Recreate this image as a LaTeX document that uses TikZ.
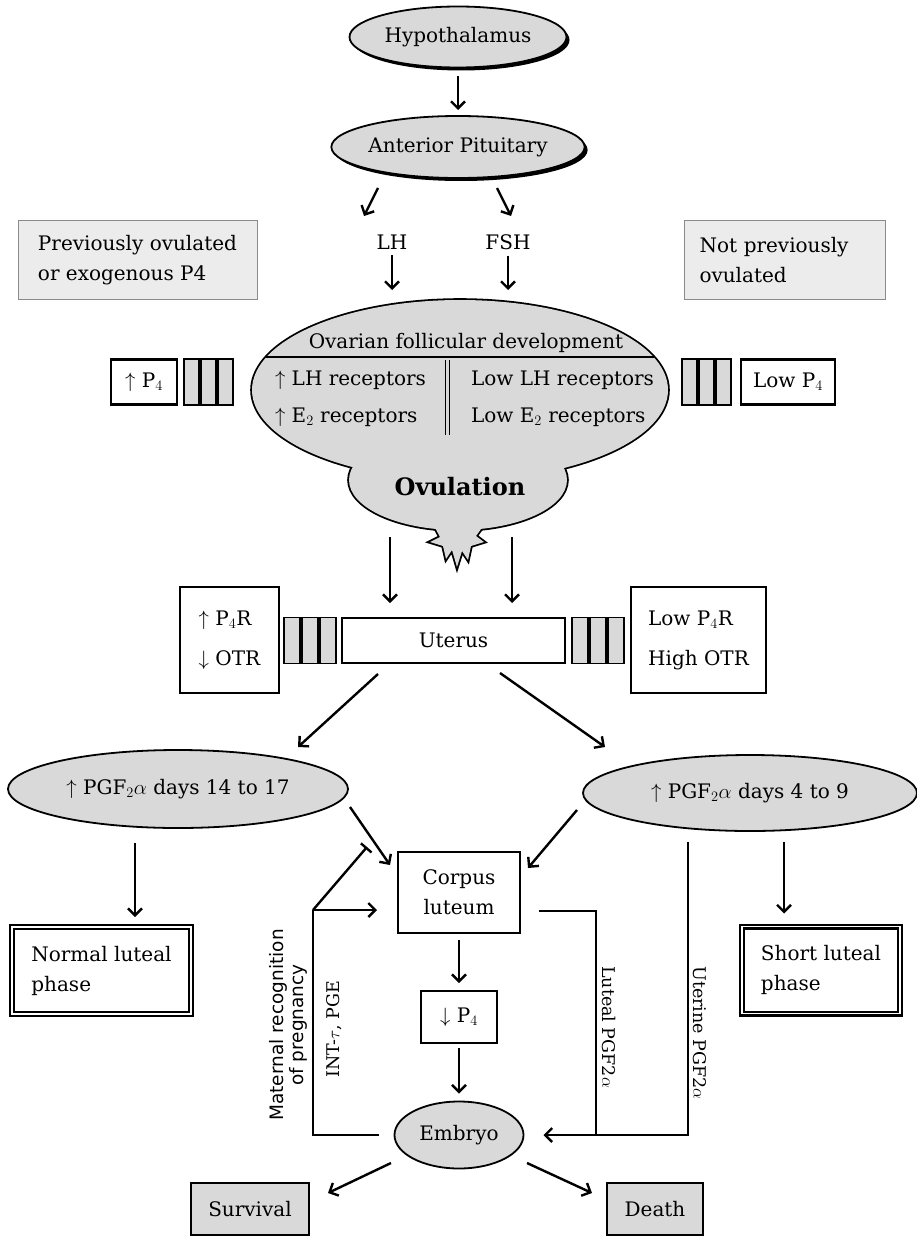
\documentclass[tikz,border=0pt]{standalone}
\usepackage{fontspec}
\setmainfont{DejaVu Serif}
\setsansfont{DejaVu Sans}
\usetikzlibrary{arrows.meta}
\usetikzlibrary{shapes.geometric}
\usetikzlibrary{shadows}
\usetikzlibrary{calc}
\definecolor{ov-fill}{HTML}{D9D9D9}
\definecolor{ov-note}{HTML}{ECECEC}
\definecolor{ov-edge}{HTML}{8A8A8A}
\def\ovrupture{(432,522) -- (440,537) -- (430,542) -- (443,546) -- (446,559) -- (452,550) -- (457,567) -- (462,551) -- (468,560) -- (471,546) -- (484,542) -- (476,536) -- (486,522) -- cycle}

\begin{document}
\begin{tikzpicture}[x=1pt, y=-1pt, >={Straight Barb[length=7pt,width=14pt]}, line width=2.4pt,
    every node/.style={font=\fontsize{20}{30}\selectfont, inner sep=0pt, outer sep=0pt},
    gland/.style={ellipse, draw, fill=ov-fill, line width=1.8pt, minimum width=217pt, minimum height=61pt,
        drop shadow={shadow xshift=3pt, shadow yshift=-3pt, fill=black, opacity=1}},
    oval/.style={ellipse, draw, fill=ov-fill, line width=1.8pt},
    note/.style={draw=ov-edge, fill=ov-note, line width=1pt, align=left, minimum height=79pt},
    plain/.style={draw, fill=white, line width=2.2pt},
    cell/.style={draw, fill=ov-fill, line width=1.8pt, minimum width=15pt, minimum height=46pt},
    luteal/.style={draw, double=white, double distance=1.2pt, line width=2.4pt, align=left, minimum width=179pt, minimum height=87pt},
    outcome/.style={draw, fill=ov-fill, line width=2.2pt, minimum height=52pt},
    side/.style={font=\fontsize{17.5}{20}\selectfont}]
    \useasboundingbox (0,0) rectangle (917,1236);
    \node[gland] (hyp) at (458,37) {Hypothalamus};
    \node[gland, minimum width=219pt, minimum height=62pt] (ant) at (458,147) {Anterior Pituitary};
    \draw[->, shorten <=9pt, shorten >=6pt] (hyp) -- (ant);
    \coordinate (lhfrom) at (378,188);
    \coordinate (lhto) at (364,216);
    \coordinate (fshfrom) at (497,188);
    \coordinate (fshto) at (511,216);
    \draw[->] (lhfrom) -- (lhto);
    \draw[->] (fshfrom) -- (fshto);
    \node (lh) at (392,242) {LH};
    \node (fsh) at (508,242) {FSH};
    \node[note, minimum width=239pt] (prev) at (137.5,260) {Previously ovulated\\or exogenous P4};
    \node[note, minimum width=201pt, text width=170pt] (notprev) at (784.5,260) {Not previously\\ovulated};

    \node[oval, line width=3.6pt, minimum width=416pt, minimum height=180pt] (ova) at (460,390) {};
    \node[oval, line width=3.6pt, minimum width=218pt, minimum height=100pt] (ovul) at (458,480) {};
    \filldraw[fill=ov-fill, line width=3.6pt] \ovrupture;
    \fill[ov-fill] (ova.center) ellipse [x radius=208, y radius=90];
    \fill[ov-fill] (ovul.center) ellipse [x radius=109, y radius=50];
    \fill[ov-fill] \ovrupture;
    \draw[->, shorten <=6pt, shorten >=10pt] (lh) -- (lh |- ova.north);
    \draw[->, shorten <=6pt, shorten >=10pt] (fsh) -- (fsh |- ova.north);
    \node (ovtitle) at (466,343) {Ovarian follicular development};
    \draw[line width=1.8pt] (266,357) -- (654,357);
    \draw[line width=1.4pt, double=ov-fill, double distance=2.4pt] (447.5,360) -- (447.5,435);
    \node[anchor=west] (lhup) at (275,380) {$\uparrow$ LH receptors};
    \node[anchor=west] (e2up) at (275,417) {$\uparrow$ E$_2$ receptors};
    \node[anchor=west] (lhlow) at (471,380) {Low LH receptors};
    \node[anchor=west] (e2low) at (471,417) {Low E$_2$ receptors};
    \node[font=\bfseries\fontsize{24}{28}\selectfont] (ovtext) at (460,487) {Ovulation};

    \node[plain, minimum width=66pt, minimum height=45pt] (p4up) at (144,382) {$\uparrow$ P$_4$};
    \foreach \i/\x in {1/191.5, 2/208.5, 3/225.5}
        \node[cell] (pl\i) at (\x,382) {};
    \foreach \i/\x in {1/689.5, 2/706.5, 3/723.5}
        \node[cell] (pr\i) at (\x,382) {};
    \node[plain, minimum width=94pt, minimum height=45pt] (p4low) at (788,382) {Low P$_4$};

    \coordinate (ovleft) at (390,537);
    \coordinate (ovright) at (512,537);
    \coordinate (utleft) at (390,603);
    \coordinate (utright) at (512,603);
    \draw[->] (ovleft) -- (utleft);
    \draw[->] (ovright) -- (utright);

    \node[plain, minimum width=99pt, minimum height=106pt, align=left] (recl) at (229.5,640) {$\uparrow$ P$_4$R\\[10pt]$\downarrow$ OTR};
    \foreach \i/\x in {1/292, 2/310, 3/328}
        \node[cell, minimum width=16pt] (ul\i) at (\x,640.5) {};
    \node[plain, minimum width=223pt, minimum height=45pt] (uterus) at (453.5,640.5) {Uterus};
    \foreach \i/\x in {1/580, 2/598, 3/616}
        \node[cell, minimum width=16pt] (ur\i) at (\x,640.5) {};
    \node[plain, minimum width=135pt, minimum height=106pt, align=left] (recr) at (698.5,640) {Low P$_4$R\\[10pt]High OTR};

    \coordinate (uterl) at (378,674);
    \coordinate (uterr) at (500,673);
    \coordinate (pgfltop) at (298,747);
    \coordinate (pgfrtop) at (605,747);
    \draw[->] (uterl) -- (pgfltop);
    \draw[->] (uterr) -- (pgfrtop);
    \node[oval, minimum width=340pt, minimum height=78pt] (pgfl) at (178,789) {$\uparrow$ PGF$_2\alpha$ days 14 to 17};
    \node[oval, minimum width=334pt, minimum height=76pt] (pgfr) at (750,793) {$\uparrow$ PGF$_2\alpha$ days 4 to 9};

    \node[luteal] (nlut) at (101.5,970.5) {Normal luteal\\phase};
    \node[luteal, minimum width=158pt] (slut) at (821,970) {Short luteal\\phase};
    \coordinate (pgflout) at (135,843);
    \coordinate (pgfrout) at (784,842);
    \draw[->, shorten >=10pt] (pgflout) -- (pgflout |- nlut.north);
    \draw[->, shorten >=13pt] (pgfrout) -- (pgfrout |- slut.north);

    \node[plain, minimum width=122pt, minimum height=81pt, align=center] (corpus) at (459,892.5) {Corpus\\luteum};
    \node[plain, minimum width=76pt, minimum height=52pt] (p4down) at (459,1017) {$\downarrow$ P$_4$};
    \node[oval, minimum width=129pt, minimum height=67pt] (embryo) at (459,1135) {Embryo};
    \draw[->, shorten <=7pt, shorten >=8pt] (corpus) -- (p4down);
    \draw[->, shorten <=5pt, shorten >=8pt] (p4down) -- (embryo);
    \coordinate (pgflin) at (350,807);
    \coordinate (corpusnw) at (390,865);
    \coordinate (pgfrin) at (577,810);
    \coordinate (corpusne) at (528,868);
    \draw[->] (pgflin) -- (corpusnw);
    \draw[->] (pgfrin) -- (corpusne);

    \coordinate (mrp) at (313,910);
    \coordinate (mrblock) at (367,847);
    \draw[-{Bar[width=14pt]}] (mrp) -- (mrblock);
    \draw[->, shorten >=21pt] (mrp) -- (mrp -| corpus.west);
    \draw[shorten <=16pt] (embryo.west) -| (mrp);
    \coordinate (lutout) at (539,911);
    \coordinate (lutjoin) at (596,1135);
    \coordinate (utout) at (688,842);
    \draw (lutout) -| (lutjoin);
    \draw[->, shorten >=20pt] (utout) |- (embryo.east);

    \node[font=\sffamily\fontsize{18.5}{20}\selectfont, rotate=90, align=center] (matrec) at (288,1025) {Maternal recognition\\of pregnancy};
    \node[side, rotate=90] (intau) at (334,1029) {INT-$\tau$, PGE};
    \node[side, rotate=-90] (lutpgf) at (609,1027) {Luteal PGF2$\alpha$};
    \node[side, rotate=-90] (utpgf) at (700,1033) {Uterine PGF2$\alpha$};

    \coordinate (embl) at (391,1163);
    \coordinate (survtip) at (328,1193);
    \coordinate (embr) at (527,1163);
    \coordinate (deathtip) at (592,1193);
    \draw[->] (embl) -- (survtip);
    \draw[->] (embr) -- (deathtip);
    \node[outcome, minimum width=118pt] (surv) at (250,1209) {Survival};
    \node[outcome, minimum width=96pt] (death) at (655,1209) {Death};
\end{tikzpicture}
\end{document}
